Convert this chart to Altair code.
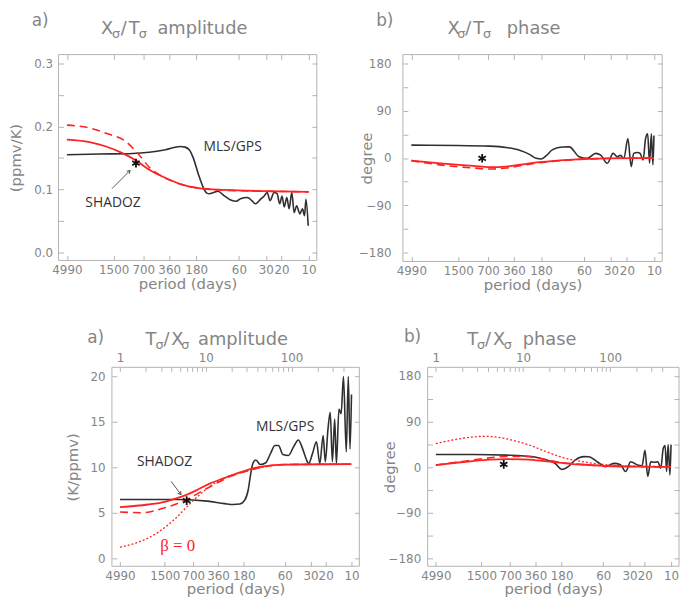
import altair as alt
import pandas as pd

# ---------------- axis values ----------------
PERIOD_TICKS = [4990, 1500, 700, 360, 180, 60, 30, 20, 10]
FREQ_TICKS = [1, 2, 3, 4, 5, 6, 7, 8, 9, 10, 20, 30, 40, 50, 60, 70, 80, 90, 100, 200, 300, 400]
BASE_PERIOD = 4990
AMP_TICKS_TOP = [0.0, 0.05, 0.1, 0.15, 0.2, 0.25, 0.3]
AMP_TICKS_BOT = [0, 5, 10, 15, 20]
PHASE_TICKS = [-180, -135, -90, -45, 0, 45, 90, 135, 180]

# ---------------- a) X/T amplitude (top left) ----------------
tl_mls_period = [4990, 2143, 920, 603, 395, 270, 240, 215, 194, 170, 150, 137, 128, 115, 103, 88, 74, 64,
                 57.6, 48.2, 43, 39.3, 34.5, 31.3, 29.0, 26.9, 24.3, 22.5, 21.0, 19.8, 18.7, 17.5, 16.5,
                 15.4, 14.5, 13.6, 12.5, 11.7, 11.1, 10.7, 10.1]
tl_mls_value = [0.155, 0.156, 0.157, 0.159, 0.163, 0.168, 0.167, 0.163, 0.150, 0.124, 0.103, 0.094, 0.093,
                0.095, 0.097, 0.090, 0.083, 0.081, 0.085, 0.087, 0.082, 0.077, 0.084, 0.0895, 0.095, 0.082,
                0.095, 0.093, 0.077, 0.0895, 0.072, 0.087, 0.069, 0.095, 0.063, 0.074, 0.061, 0.069, 0.058,
                0.084, 0.042]
tl_red_period = [4990, 2788, 1823, 1197, 851, 600, 395, 259, 170, 86, 31, 10]
tl_red_value = [0.179, 0.175, 0.168, 0.1575, 0.146, 0.131, 0.118, 0.1075, 0.102, 0.099, 0.097, 0.096]
tl_dash_period = [4990, 4080, 2700, 1823, 1099, 783, 600, 450, 330, 259, 170, 100, 31, 10]
tl_dash_value = [0.202, 0.201, 0.197, 0.189, 0.176, 0.155, 0.135, 0.122, 0.113, 0.1075, 0.102, 0.099, 0.097, 0.096]
tl_star = {"period": [846], "value": [0.1416]}

# ---------------- b) X/T phase (top right) ----------------
tr_mls_period = [4990, 1564, 670, 438, 312, 242, 204, 180, 158, 134, 104, 87.5, 68, 55.4, 44.4, 39.1, 33.0,
                 28.4, 25.7, 23.5, 21.6, 19.5, 17.9, 16.8, 15.4, 14.3, 13.2, 12.4, 11.75, 11.2, 10.7, 10.26, 10]
tr_mls_value = [24.5, 24, 22.6, 20, 15, 7, -0.6, -2, 4.4, 16, 21, 21.3, 2.5, -0.7, 8.8, 5.6, -10, 8.8, 2.5, 5,
                -0.7, 37, -16.4, 8.8, 10.6, 9, -3.8, 37, 46, -10, 46, -13, 43]
tr_red_period = [4990, 2387, 1023, 670, 438, 287, 188, 80, 34.4, 10]
tr_red_value = [-5, -10, -15, -17.6, -16.4, -12, -8, -3, -0.6, 0]
tr_dash_value = [-5, -13, -19, -21, -19, -14, -9, -3.5, -0.8, 0]
tr_star = {"period": [814], "value": [-0.6]}

# ---------------- a) T/X amplitude (bottom left) ----------------
bl_mls_period = [4990, 2353, 1011, 477, 300, 240, 200, 175, 160, 150, 140, 130, 116, 100, 88, 78, 71, 63,
                 54.4, 47, 41.6, 37, 33.4, 31.6, 28.5, 25.6, 23.4, 21.4, 20.2, 18.8, 17.7, 16.7, 15.7, 15.0,
                 14.0, 13.2, 12.4, 11.5, 10.9, 10.4, 10.0]
bl_mls_value = [6.45, 6.45, 6.45, 6.27, 6.0, 5.9, 5.95, 6.4, 7.5, 9.2, 10.5, 10.8, 10.3, 10.5, 11.5, 12.4,
                12.4, 11.4, 11.3, 12.3, 13.0, 12.0, 10.8, 10.4, 11.5, 12.8, 10.4, 13.5, 10.6, 14.2, 16.05,
                10.6, 15.3, 10.4, 16.4, 15.9, 20.0, 11.7, 20.0, 12.0, 18.0]
bl_red_period = [4990, 2353, 1500, 1059, 800, 622, 450, 306, 220, 165, 106, 60, 10]
bl_red_value = [5.62, 5.9, 6.2, 6.63, 7.05, 7.53, 8.2, 8.8, 9.3, 9.7, 10.1, 10.3, 10.34]
bl_dash_period = [4990, 2813, 1507, 886, 477, 257, 151, 106, 60, 10]
bl_dash_value = [5.07, 5.0, 5.54, 6.34, 7.7, 9.0, 9.7, 10.05, 10.3, 10.34]
bl_dot_period = [4990, 3069, 1803, 1156, 744, 477, 306, 180, 110, 60, 10]
bl_dot_value = [1.2, 1.74, 2.83, 4.27, 6.09, 7.7, 8.8, 9.5, 10.0, 10.3, 10.34]
bl_star = {"period": [834], "value": [6.33]}

# ---------------- b) T/X phase (bottom right) ----------------
br_mls_period = [4990, 1880, 774, 380, 267, 214, 180, 150, 126, 100, 88, 70.5, 56.5, 45.3, 38, 33.2, 29.0,
                 24.3, 21.5, 19.9, 18.5, 17.1, 15.5, 14.2, 13.1, 12.3, 11.7, 11.25, 10.8, 10.3, 10]
br_mls_value = [25.3, 25.3, 24, 20.8, 14.3, 7.8, -4, 2, 14.3, 21, 20.8, 11, 1.3, 7.8, 5, -8.4, 11, 4.5, 3,
                33.7, -18, 11, 10, 11, -2, 37, 43, -8.4, 44.7, -15, 44.7]
br_red_period = [4990, 2933, 1880, 1205, 774, 497, 319, 205, 131, 84, 54, 22.3, 10]
br_red_value = [4.5, 9, 12.3, 15, 16.2, 15.6, 13, 9.7, 6.5, 4.5, 2.6, 1.3, 0.6]
br_dash_value = [4.5, 9.7, 14.3, 18.8, 21.4, 21.4, 17.5, 11, 7, 4.5, 2.6, 1.3, 0.6]
br_dot_period = [4990, 2933, 1880, 1441, 1010, 650, 416, 267, 171, 110, 70.5, 34.7, 10]
br_dot_value = [46.7, 55, 59.7, 61, 59.7, 53, 43.5, 30.5, 18.8, 12, 7, 3, 1.3]
br_star = {"period": [831], "value": [5.8]}

# ---------------- annotations ----------------
tl_labels = {"period": [70.5, 1527], "value": [0.1676, 0.0777], "label": ["MLS/GPS", "SHADOZ"]}
tl_arrow = {"period": [1566], "value": [0.101], "period2": [984], "value2": [0.130]}
bl_labels = {"period": [59.4, 1507], "value": [14.4, 10.54], "label": ["MLS/GPS", "SHADOZ"]}
bl_arrow = {"period": [1266], "value": [8.45], "period2": [971], "value2": [6.99]}
bl_beta = {"period": [1059], "value": [1.3], "label": ["β = 0"]}

# ---------------- style ----------------
GRAY = "#858585"
FRAME = "#b3b3b3"
FONT = "DejaVu Sans"
ANNO_FONT = "Open Sans"
BLACK = "#2f2f2f"
RED = "#ff2222"
X_DOMAIN = [8.1, 6200]
ONE = pd.DataFrame({"k": [0]})
ASTERISK = "M0,-1L0,1M-0.87,-0.5L0.87,0.5M-0.87,0.5L0.87,-0.5"
VHEAD = "M-0.55,0.9L0,0L0.55,0.9"
AMP_EXPR = "abs(round(datum.value*100)) % 10 == 0 ? format(datum.value, '.1f') : ''"
PHASE_EXPR = "datum.value % 90 == 0 ? format(datum.value, 'd') : ''"
FREQ_EXPR = "indexof([1,10,100], round(4990/datum.value)) >= 0 ? '' + round(4990/datum.value) : ''"


class Panel:
    """Cell of the 2x2 grid; the frame (plot box) sits inside the cell at (fl, ft)-(fr, fb)."""

    def __init__(self, W, H, fl, ft, fr, fb, ydom):
        self.W, self.H = W, H
        self.fl, self.ft, self.fr, self.fb = fl, ft, fr, fb
        self.ydom = ydom

    def xs(self):
        return alt.Scale(type="log", domain=X_DOMAIN, range=[self.fr, self.fl], nice=False)

    def ys(self):
        return alt.Scale(domain=self.ydom, range=[self.fb, self.ft], nice=False, zero=False)

    def axis(self, orient, **kw):
        off = {"left": self.fl, "right": self.W - self.fr, "top": self.ft, "bottom": self.H - self.fb}[orient]
        tick = kw.pop("tickSize", 5)
        base = dict(orient=orient, domain=False, grid=False, tickColor=FRAME, tickWidth=1,
                    tickSize=tick, offset=-(off + tick),
                    labelColor=GRAY, labelFont=FONT, labelFontSize=12, labelOverlap=False,
                    labelFlush=False, titleColor=GRAY, titleFont=FONT, titleFontSize=15,
                    titleFontWeight="normal", title="")
        base.update(kw)
        return alt.Axis(**base)

    def enc(self, chart, xf="period:Q", yf="value:Q", xaxis=None, yaxis=None):
        return chart.encode(x=alt.X(xf, scale=self.xs(), axis=xaxis),
                            y=alt.Y(yf, scale=self.ys(), axis=yaxis))

    def line(self, periods, values, color, width, dash=None, xaxis=None, yaxis=None):
        df = pd.DataFrame({"period": periods, "value": values})
        props = dict(color=color, strokeWidth=width, interpolate="monotone")
        if dash is not None:
            props["strokeDash"] = dash
        return self.enc(alt.Chart(df).mark_line(**props), xaxis=xaxis, yaxis=yaxis)

    def star(self, d):
        return self.enc(alt.Chart(pd.DataFrame(d)).mark_point(
            shape=ASTERISK, size=75, strokeWidth=1.8, color="#111111", filled=False, opacity=1))

    def labels(self, d, color="#333333", font=ANNO_FONT, size=14):
        return self.enc(alt.Chart(pd.DataFrame(d)).mark_text(
            font=font, fontSize=size, color=color, align="center", baseline="middle")).encode(text="label:N")

    def arrow(self, d, angle):
        df = pd.DataFrame(d)
        shaft = self.enc(alt.Chart(df).mark_rule(color="#444444", strokeWidth=0.9)).encode(
            x2="period2:Q", y2="value2:Q")
        head = self.enc(alt.Chart(df).mark_point(shape=VHEAD, size=45, angle=angle, filled=False,
                                                 strokeWidth=0.9, color="#444444", opacity=1),
                        xf="period2:Q", yf="value2:Q")
        return [shaft, head]

    def txt(self, s, x, y, size, color=GRAY, font=FONT):
        # x, y relative to the frame's top-left corner
        return alt.Chart(ONE).mark_text(text=s, align="left", baseline="alphabetic", font=font,
                                        fontSize=size, color=color).encode(
            x=alt.value(self.fl + x), y=alt.value(self.ft + y))

    def title(self, pieces, y):
        out = []
        for s, x, small in pieces:
            out.append(self.txt(s, x, y + 4, 13) if small else self.txt(s, x, y, 18))
        return out

    def frame(self):
        return alt.Chart(ONE).mark_rect(fillOpacity=0, stroke=FRAME, strokeWidth=1).encode(
            x=alt.value(self.fl), x2=alt.value(self.fr), y=alt.value(self.ft), y2=alt.value(self.fb))

    def x_bottom(self):
        return self.axis("bottom", values=PERIOD_TICKS, format="d", labelPadding=4,
                         title="period (days)", titleY=28, titleBaseline="middle")

    def x_top_mirror(self):
        return self.axis("top", values=PERIOD_TICKS, labels=False)

    def x_top_freq(self):
        return self.axis("top", values=[BASE_PERIOD / f for f in FREQ_TICKS], tickSize=4,
                         labelPadding=3, labelExpr=FREQ_EXPR)

    def y_left(self, values, title_txt, title_x, pad, expr=None):
        kw = dict(values=values, labelPadding=pad, title=title_txt, titleX=title_x,
                  titleBaseline="middle")
        if expr is not None:
            kw["labelExpr"] = expr
        return self.axis("left", **kw)

    def y_right(self, values):
        return self.axis("right", values=values, labels=False)

    def build(self, layers):
        return alt.layer(*layers).resolve_axis(x="independent", y="independent").properties(
            width=self.W, height=self.H)


# grid cells: column 0 starts at page x 40, column 1 at 388; row 0 at page y 40, row 1 at 356
P_TL = Panel(348, 316, 19, 12, 280, 220, [-0.013, 0.314])
P_TR = Panel(300, 316, 19, 12, 281, 221, [-197, 197])
P_BL = Panel(348, 244, 73, 12, 323, 213, [-0.9, 21])
P_BR = Panel(300, 244, 44, 12, 298, 213, [-195, 197])

p = P_TL
tl = p.build([
    p.frame(),
    p.line(tl_mls_period, tl_mls_value, BLACK, 1.6, xaxis=p.x_bottom(),
           yaxis=p.y_left(AMP_TICKS_TOP, "(ppmv/K)", -48.5, 6, AMP_EXPR)),
    p.line(tl_dash_period, tl_dash_value, RED, 1.6, dash=[8, 5]),
    p.line(tl_red_period, tl_red_value, RED, 1.8, xaxis=p.x_top_mirror(), yaxis=p.y_right(AMP_TICKS_TOP)),
    p.star(tl_star),
    p.labels(tl_labels),
    *p.arrow(tl_arrow, 45),
    p.txt("a)", -27, -29, 17),
    *p.title([("X", 43, False), ("σ", 54, True), ("/", 63, False), ("T", 71, False), ("σ", 81, True),
              ("amplitude", 100, False)], -21),
    # invisible anchor: top-left corner of the whole figure (page 8, 8)
    alt.Chart(ONE).mark_rect(opacity=0).encode(x=alt.value(-32), x2=alt.value(-31),
                                                y=alt.value(-32), y2=alt.value(-31)),
])

p = P_TR
tr = p.build([
    p.frame(),
    p.line(tr_mls_period, tr_mls_value, BLACK, 1.6, xaxis=p.x_bottom(),
           yaxis=p.y_left(PHASE_TICKS, "degree", -42, 12, PHASE_EXPR)),
    p.line(tr_red_period, tr_dash_value, RED, 1.6, dash=[8, 5]),
    p.line(tr_red_period, tr_red_value, RED, 1.8, xaxis=p.x_top_mirror(), yaxis=p.y_right(PHASE_TICKS)),
    p.star(tr_star),
    p.txt("b)", -27, -29, 17),
    *p.title([("X", 45, False), ("σ", 55, True), ("/", 63, False), ("T", 71, False), ("σ", 81, True),
              ("phase", 105, False)], -21),
])

p = P_BL
bl = p.build([
    p.frame(),
    p.line(bl_mls_period, bl_mls_value, BLACK, 1.6, xaxis=p.x_bottom(),
           yaxis=p.y_left(AMP_TICKS_BOT, "(K/ppmv)", -45, 7)),
    p.line(bl_dot_period, bl_dot_value, RED, 1.3, dash=[2, 2]),
    p.line(bl_dash_period, bl_dash_value, RED, 1.6, dash=[8, 5]),
    p.line(bl_red_period, bl_red_value, RED, 1.8, xaxis=p.x_top_freq(), yaxis=p.y_right(AMP_TICKS_BOT)),
    p.star(bl_star),
    p.labels(bl_labels),
    p.labels(bl_beta, color=RED, font="Liberation Serif", size=17),
    *p.arrow(bl_arrow, 143),
    p.txt("a)", -25, -25, 17),
    *p.title([("T", 34, False), ("σ", 44, True), ("/", 52, False), ("X", 60, False), ("σ", 70, True),
              ("amplitude", 87, False)], -23),
])

p = P_BR
br = p.build([
    p.frame(),
    p.line(br_mls_period, br_mls_value, BLACK, 1.6, xaxis=p.x_bottom(),
           yaxis=p.y_left(PHASE_TICKS, "degree", -43, 7, PHASE_EXPR)),
    p.line(br_dot_period, br_dot_value, RED, 1.3, dash=[2, 2]),
    p.line(br_red_period, br_dash_value, RED, 1.6, dash=[8, 5]),
    p.line(br_red_period, br_red_value, RED, 1.8, xaxis=p.x_top_freq(), yaxis=p.y_right(PHASE_TICKS)),
    p.star(br_star),
    p.txt("b)", -24, -26, 17),
    *p.title([("T", 40, False), ("σ", 50, True), ("/", 58, False), ("X", 66, False), ("σ", 77, True),
              ("phase", 96, False)], -23),
])

chart = alt.concat(tl, tr, bl, br, columns=2, spacing=0, align="each", bounds="flush").properties(
    padding={"left": 0, "top": 0, "right": 0, "bottom": 0}, background="white"
).configure_view(strokeWidth=0, stroke="transparent")

chart.save("out.html", embed_options={"renderer": "svg", "actions": False})
